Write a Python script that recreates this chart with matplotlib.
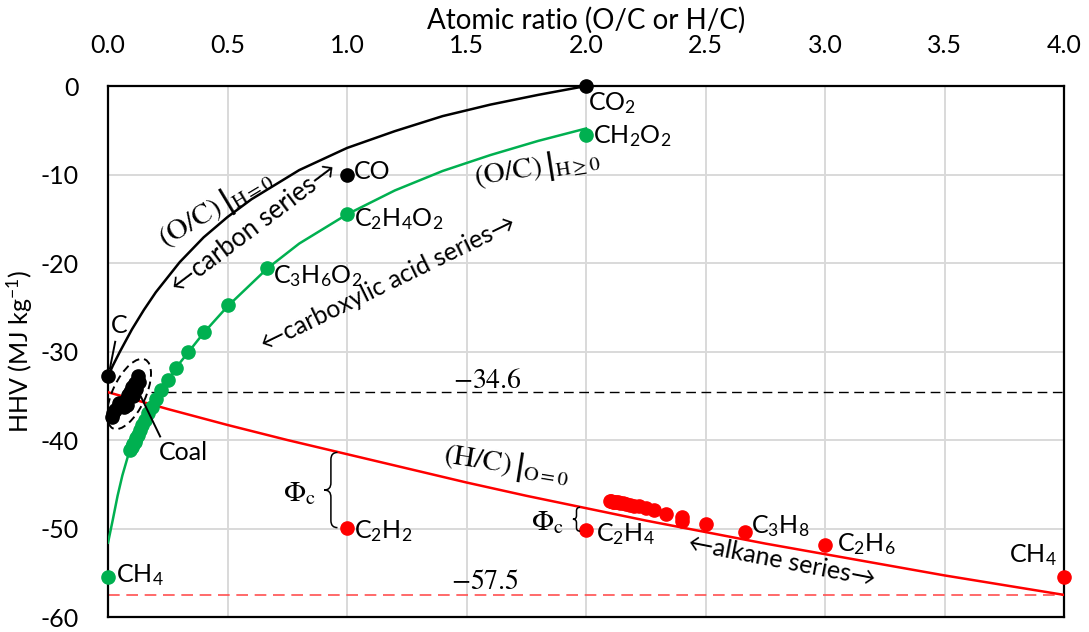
import matplotlib
matplotlib.use("Agg")
import matplotlib.pyplot as plt
import matplotlib.transforms as mtransforms
from matplotlib.patches import Ellipse, PathPatch
from matplotlib.path import Path

plt.rcParams['font.family'] = ['Lato', 'DejaVu Sans']
plt.rcParams['mathtext.fontset'] = 'custom'
plt.rcParams['mathtext.rm'] = 'Lato'
plt.rcParams['mathtext.it'] = 'Lato:italic'
plt.rcParams['mathtext.bf'] = 'Lato:bold'
plt.rcParams['axes.unicode_minus'] = False

# --- data ---
# (O/C)|H=0 curve, carbon series
carbon_curve_x = [0.0, 0.02, 0.05, 0.1, 0.15, 0.2, 0.3, 0.4, 0.5, 0.6, 0.8, 1.0, 1.2, 1.4, 1.6, 1.8, 2.0]
carbon_curve_y = [-32.8, -31.6, -30.0, -27.5, -25.3, -23.3, -19.9, -17.1, -14.8, -12.8, -9.5, -7.0, -5.1, -3.4, -2.1, -1.0, 0.0]
# (O/C)|H>=0 curve, carboxylic acid series
acid_curve_x = [0.0, 0.02, 0.04, 0.06, 0.09, 0.12, 0.15, 0.2, 0.25, 0.3, 0.4, 0.5, 0.667, 0.8, 1.0, 1.2, 1.4, 1.6, 1.8, 2.0]
acid_curve_y = [-51.6, -49.0, -46.3, -44.0, -41.2, -39.3, -37.6, -35.2, -33.2, -31.3, -27.9, -24.9, -20.6, -17.8, -14.5, -11.8, -9.6, -7.8, -6.2, -4.8]
# (H/C)|O=0 curve, alkane series
alkane_curve_x = [0.0, 0.25, 0.5, 0.75, 1.0, 1.25, 1.5, 1.75, 2.0, 2.25, 2.5, 2.75, 3.0, 3.25, 3.5, 3.75, 4.0]
alkane_curve_y = [-34.6, -36.5, -38.3, -40.0, -41.6, -43.2, -44.8, -46.3, -47.7, -49.1, -50.4, -51.7, -52.9, -54.1, -55.3, -56.4, -57.5]

# black points: C, CO, CO2
carbon_pts_x = [0.0, 1.0, 2.0]
carbon_pts_y = [-32.8, -10.1, 0.0]
# coal samples
coal_x = [0.127, 0.113, 0.13, 0.10, 0.09, 0.085, 0.075, 0.07, 0.055, 0.04, 0.03, 0.022, 0.065, 0.08, 0.105, 0.118, 0.015, 0.045]
coal_y = [-32.8, -33.6, -33.4, -34.0, -34.6, -34.9, -35.5, -35.9, -36.0, -36.3, -36.6, -37.0, -36.3, -36.0, -35.0, -34.2, -37.4, -35.8]
# green points: carboxylic acids and CH4
acid_pts_x = [2.0, 1.0, 0.667, 0.5, 0.4, 0.333, 0.286, 0.25, 0.222, 0.2, 0.182, 0.167, 0.154, 0.143,
              0.133, 0.125, 0.118, 0.111, 0.105, 0.1, 0.091, 0.0]
acid_pts_y = [-5.5, -14.5, -20.6, -24.8, -27.8, -30.0, -31.9, -33.2, -34.4, -35.4, -36.3, -37.0, -37.7, -38.3,
              -38.9, -39.4, -39.8, -40.2, -40.5, -40.8, -41.1, -55.5]
# red points: C2H2, C2H4, alkanes
alkane_pts_x = [1.0, 2.0, 4.0, 3.0, 2.667, 2.5, 2.4, 2.4, 2.333, 2.286, 2.25, 2.222, 2.2, 2.182, 2.167,
                2.154, 2.143, 2.133, 2.125, 2.118, 2.111, 2.105, 2.1]
alkane_pts_y = [-49.9, -50.2, -55.5, -51.9, -50.4, -49.5, -48.7, -49.1, -48.4, -47.9, -47.7, -47.5, -47.4, -47.3, -47.2,
                -47.15, -47.1, -47.05, -47.0, -47.0, -46.95, -46.9, -46.9]

ref_upper = -34.6
ref_lower = -57.5

xticks = [0.0, 0.5, 1.0, 1.5, 2.0, 2.5, 3.0, 3.5, 4.0]
yticks = [0, -10, -20, -30, -40, -50, -60]

GREEN = '#00B050'
RED = '#FF0000'

fig = plt.figure(figsize=(10.89, 6.32), dpi=100)
ax = fig.add_axes([0.0992, 0.0237, 0.8779, 0.8402])

ax.plot(carbon_curve_x, carbon_curve_y, color='black', lw=1.8, zorder=3)
ax.plot(acid_curve_x, acid_curve_y, color=GREEN, lw=1.8, zorder=3)
ax.plot(alkane_curve_x, alkane_curve_y, color=RED, lw=1.8, zorder=3)

ax.plot([0.18, 4.0], [ref_upper, ref_upper], color='black', lw=1.0, ls=(0, (7, 4)), zorder=2)
ax.plot([0.0, 4.0], [ref_lower, ref_lower], color='#FF5050', lw=1.2, ls=(0, (7, 4)), zorder=2)

ax.plot(coal_x, coal_y, 'o', color='black', ms=9.5, zorder=4, clip_on=False)
ax.plot(carbon_pts_x, carbon_pts_y, 'o', color='black', ms=9.5, zorder=4, clip_on=False)
ax.plot(acid_pts_x, acid_pts_y, 'o', color=GREEN, ms=9.5, zorder=4, clip_on=False)
ax.plot(alkane_pts_x, alkane_pts_y, 'o', color=RED, ms=9.5, zorder=4, clip_on=False)

ax.set_xlim(0, 4)
ax.set_ylim(-60, 0)
ax.set_xticks(xticks)
ax.set_xticklabels([f'{t:.1f}' for t in xticks])
ax.set_yticks(yticks)
ax.xaxis.tick_top()
ax.xaxis.set_label_position('top')
ax.tick_params(length=0, labelsize=18, pad=21)
ax.set_xlabel('Atomic ratio (O/C or H/C)', fontsize=20, labelpad=4)
ax.set_ylabel('HHV (MJ kg$^{-1}$)', fontsize=18, labelpad=4)
ax.grid(color='#D9D9D9', lw=1.4, zorder=0)
ax.set_axisbelow(True)
for s in ax.spines.values():
    s.set_linewidth(1.6)

# coal ellipse
ell_tr = fig.dpi_scale_trans + mtransforms.ScaledTranslation(0.088, -34.8, ax.transData)
ax.add_patch(Ellipse((0, 0), 0.76, 0.33, angle=65, transform=ell_tr, fill=False,
                     ls=(0, (4, 2.5)), lw=1.4, color='black', zorder=5))

# leader lines
ax.plot([0.03, 0.008], [-28.9, -31.9], color='black', lw=1.4, zorder=5)
ax.plot([0.134, 0.218], [-34.9, -39.6], color='black', lw=1.4, zorder=5)


def brace(x, ytop, ybot, w, h):
    ym = (ytop + ybot) / 2
    xv = x - w / 2
    verts = [(x, ytop), (xv, ytop), (xv, ytop - h),
             (xv, ym + h), (xv, ym), (x - w, ym),
             (xv, ym), (xv, ym - h),
             (xv, ybot + h), (xv, ybot), (x, ybot)]
    codes = [Path.MOVETO, Path.CURVE3, Path.CURVE3,
             Path.LINETO, Path.CURVE3, Path.CURVE3,
             Path.CURVE3, Path.CURVE3,
             Path.LINETO, Path.CURVE3, Path.CURVE3]
    ax.add_patch(PathPatch(Path(verts, codes), fill=False, lw=1.1, color='black', zorder=5))


brace(0.96, -41.4, -49.9, 0.055, 0.8)
brace(1.975, -47.6, -50.3, 0.03, 0.4)

fs = 18
# labels
ax.text(2.01, -1.9, 'CO$_2$', fontsize=fs, ha='left', va='center')
ax.text(2.03, -5.6, 'CH$_2$O$_2$', fontsize=fs, ha='left', va='center')
ax.text(1.03, -9.7, 'CO', fontsize=fs, ha='left', va='center')
ax.text(1.03, -15.0, 'C$_2$H$_4$O$_2$', fontsize=fs, ha='left', va='center')
ax.text(0.69, -21.5, 'C$_3$H$_6$O$_2$', fontsize=fs, ha='left', va='center')
ax.text(0.046, -27.1, 'C', fontsize=fs, ha='center', va='center')
ax.text(0.316, -41.4, 'Coal', fontsize=fs, ha='center', va='center')
ax.text(0.035, -55.3, 'CH$_4$', fontsize=fs, ha='left', va='center', color='black')
ax.text(1.03, -50.3, 'C$_2$H$_2$', fontsize=fs, ha='left', va='center')
ax.text(2.04, -50.6, 'C$_2$H$_4$', fontsize=fs, ha='left', va='center')
ax.text(2.69, -49.7, 'C$_3$H$_8$', fontsize=fs, ha='left', va='center')
ax.text(3.05, -51.8, 'C$_2$H$_6$', fontsize=fs, ha='left', va='center')
ax.text(3.97, -53.0, 'CH$_4$', fontsize=fs, ha='right', va='center')

ax.text(0.611, -16.0, '←carbon series→', fontsize=18.5, rotation=37, ha='center', va='center',
        rotation_mode='anchor')
ax.text(1.17, -22.3, '←carboxylic acid series→', fontsize=18, rotation=26, ha='center', va='center',
        rotation_mode='anchor')
ax.text(2.82, -53.6, '←alkane series→', fontsize=18, rotation=-11, ha='center', va='center',
        rotation_mode='anchor')

mk = dict(math_fontfamily='stix', ha='center', va='center', rotation_mode='anchor')
ax.text(0.45, -13.8, r'$\left.(\mathrm{O/C})^{\,}_{\,}\right|_{\mathrm{H=0}}$', fontsize=21, rotation=31, **mk)
ax.text(1.795, -9.3, r'$\left.(\mathrm{O/C})^{\,}_{\,}\right|_{\mathrm{H\geq 0}}$', fontsize=21, rotation=9, **mk)
ax.text(1.667, -42.8, r'$\left.(\mathrm{H/C})^{\,}_{\,}\right|_{\mathrm{O=0}}$', fontsize=21, rotation=-9, **mk)
ax.text(1.585, -33.2, r'$-34.6$', fontsize=20, **mk)
ax.text(1.575, -55.9, r'$-57.5$', fontsize=20, **mk)
ax.text(0.80, -46.1, r'$\Phi_\mathrm{c}$', fontsize=21, **mk)
ax.text(1.84, -49.3, r'$\Phi_\mathrm{c}$', fontsize=21, **mk)

fig.savefig('out.png', dpi=100)
